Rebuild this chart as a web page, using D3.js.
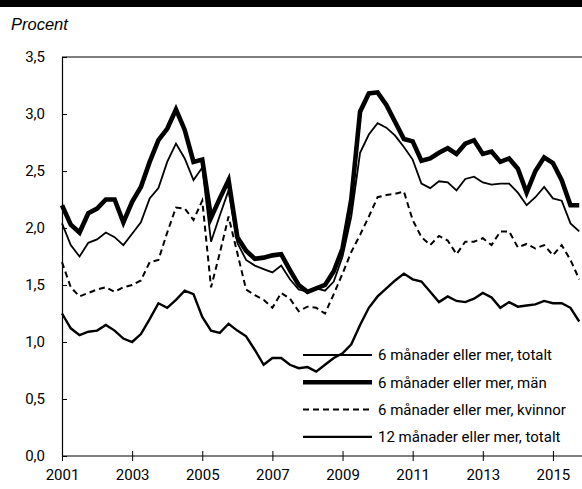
<!DOCTYPE html>
<html>
<head>
<meta charset="utf-8">
<script src="https://cdn.jsdelivr.net/npm/d3@7"></script>
<style>
  body { margin: 0; background: #fff; }
  svg { display: block; }
  .tick text, .legend text { font-family: Roboto, "Noto Sans", sans-serif; font-size: 15px; fill: #000; }
</style>
</head>
<body>
<svg id="chart" width="582" height="489"></svg>
<script>
// kvartal 2001 kv1 - 2015 kv4
var startYear = 2001;
var xTicks = [2001, 2003, 2005, 2007, 2009, 2011, 2013, 2015];
var yTicks = [0, 0.5, 1, 1.5, 2, 2.5, 3, 3.5];

var totalt6 = [
  2.04, 1.85, 1.75, 1.87,  1.90, 1.96, 1.92, 1.85,  1.95, 2.05, 2.26, 2.35,
  2.58, 2.74, 2.61, 2.42,  2.53, 1.88, 2.11, 2.33,  1.87, 1.72, 1.67, 1.64,
  1.61, 1.67, 1.55, 1.46,  1.44, 1.47, 1.45, 1.53,  1.75, 2.10, 2.66, 2.82,
  2.92, 2.88, 2.81, 2.71,  2.60, 2.39, 2.35, 2.41,  2.40, 2.33, 2.43, 2.45,
  2.40, 2.38, 2.39, 2.39,  2.31, 2.20, 2.27, 2.36,  2.26, 2.24, 2.04, 1.97
];
var man6 = [
  2.20, 2.03, 1.96, 2.13,  2.17, 2.25, 2.25, 2.05,  2.23, 2.36, 2.58, 2.77,
  2.87, 3.04, 2.86, 2.58,  2.60, 2.09, 2.26, 2.42,  1.92, 1.80, 1.73, 1.74,
  1.76, 1.77, 1.63, 1.50,  1.44, 1.47, 1.50, 1.62,  1.82, 2.25, 3.02, 3.18,
  3.19, 3.08, 2.93, 2.78,  2.76, 2.59, 2.61, 2.66,  2.70, 2.65, 2.74, 2.77,
  2.65, 2.67, 2.58, 2.61,  2.52, 2.31, 2.50, 2.62,  2.57, 2.42, 2.20, 2.20
];
var kvinnor6 = [
  1.70, 1.48, 1.40, 1.43,  1.46, 1.48, 1.44, 1.48,  1.50, 1.54, 1.70, 1.72,
  1.96, 2.18, 2.17, 2.07,  2.24, 1.48, 1.78, 2.10,  1.78, 1.46, 1.41, 1.37,
  1.30, 1.43, 1.38, 1.27,  1.31, 1.30, 1.25, 1.42,  1.60, 1.79, 1.94, 2.10,
  2.27, 2.29, 2.30, 2.32,  2.07, 1.92, 1.85, 1.93,  1.89, 1.77, 1.88, 1.88,
  1.91, 1.85, 1.97, 1.97,  1.83, 1.86, 1.82, 1.85,  1.76, 1.85, 1.72, 1.55
];
var totalt12 = [
  1.25, 1.12, 1.06, 1.09,  1.10, 1.15, 1.10, 1.03,  1.00, 1.07, 1.20, 1.34,
  1.30, 1.37, 1.45, 1.42,  1.22, 1.10, 1.08, 1.16,  1.10, 1.05, 0.93, 0.80,
  0.86, 0.86, 0.80, 0.77,  0.78, 0.74, 0.80, 0.86,  0.90, 0.98, 1.15, 1.30,
  1.40, 1.47, 1.54, 1.60,  1.55, 1.53, 1.44, 1.35,  1.40, 1.36, 1.35, 1.38,
  1.43, 1.39, 1.30, 1.35,  1.31, 1.32, 1.33, 1.36,  1.34, 1.34, 1.30, 1.18
];

var series = [
  {name: "6 månader eller mer, totalt", values: totalt6, width: 1.8, dash: null},
  {name: "6 månader eller mer, män", values: man6, width: 4.6, dash: null},
  {name: "6 månader eller mer, kvinnor", values: kvinnor6, width: 2, dash: "6,4"},
  {name: "12 månader eller mer, totalt", values: totalt12, width: 2.4, dash: null}
];

var svg = d3.select("#chart"),
    width = +svg.attr("width"),
    height = +svg.attr("height");

var x = d3.scaleLinear().domain([2001, 2016]).range([62, 588]);
var y = d3.scaleLinear().domain([0, 3.5]).range([456, 57]);

// svart list överst
svg.append("rect").attr("x", 0).attr("y", 0).attr("width", width).attr("height", 7).attr("fill", "#000");

svg.append("text")
  .attr("x", 11).attr("y", 30)
  .style("font-family", "'Liberation Sans', Arial, sans-serif")
  .style("font-style", "italic")
  .style("font-size", "16.5px")
  .text("Procent");

// y-axel
var yAxis = svg.append("g")
  .attr("transform", "translate(62,0)")
  .call(d3.axisRight(y).tickValues(yTicks).tickSize(5).tickFormat(d => d3.format(".1f")(d).replace(".", ",")));
yAxis.select(".domain").attr("stroke", "#000").attr("stroke-width", 1.2);
yAxis.selectAll(".tick line").attr("stroke", "#000");
yAxis.selectAll(".tick text").attr("x", -17).attr("text-anchor", "end");

// x-axel
var xAxis = svg.append("g")
  .attr("transform", "translate(0,456)")
  .call(d3.axisBottom(x).tickValues(xTicks).tickSize(5).tickFormat(d3.format("d")));
xAxis.select(".domain").remove();
xAxis.append("line").attr("x1", 62).attr("x2", width).attr("stroke", "#000").attr("stroke-width", 1.2);
xAxis.selectAll(".tick line").attr("y1", -5).attr("stroke", "#000");
xAxis.selectAll(".tick text").attr("y", 13);

// övre ram
svg.append("line")
  .attr("x1", 62).attr("x2", width).attr("y1", y(3.5)).attr("y2", y(3.5))
  .attr("stroke", "#000").attr("stroke-width", 1.2);

var line = d3.line()
  .x((d, i) => x(startYear + i / 4))
  .y(d => y(d));

svg.append("g")
  .selectAll("path")
  .data(series)
  .enter()
  .append("path")
    .attr("fill", "none")
    .attr("stroke", "#000")
    .attr("stroke-width", d => d.width)
    .attr("stroke-dasharray", d => d.dash)
    .attr("d", d => line(d.values));

// legend
var legend = svg.append("g").attr("class", "legend")
  .selectAll("g")
  .data(series)
  .enter()
  .append("g")
    .attr("transform", (d, i) => "translate(303," + (355 + i * 27.3) + ")");

legend.append("line")
  .attr("x1", 0).attr("x2", 69)
  .attr("stroke", "#000")
  .attr("stroke-width", d => d.width)
  .attr("stroke-dasharray", d => d.dash);

legend.append("text")
  .attr("x", 75).attr("dy", "0.35em")
  .text(d => d.name);
</script>
</body>
</html>
